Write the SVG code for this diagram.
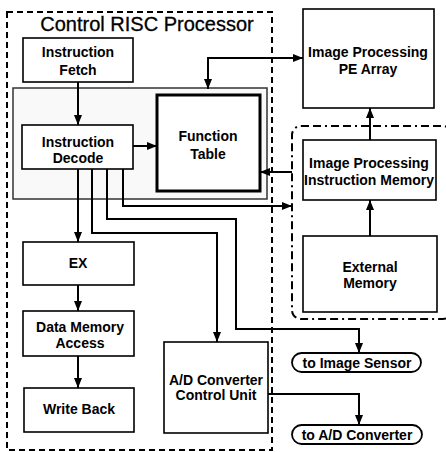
<svg xmlns="http://www.w3.org/2000/svg" width="446" height="452" viewBox="0 0 446 452">
<style>
.box{fill:#fff;stroke:#000;stroke-width:1.6}
.lbl{font-family:"Liberation Sans",Arial,sans-serif;font-weight:bold;font-size:14px;text-anchor:middle;fill:#000}
.ln{fill:none;stroke:#000;stroke-width:2}
.ar{marker-end:url(#ah)}
</style>
<defs>
<marker id="ah" markerUnits="userSpaceOnUse" markerWidth="10" markerHeight="8" refX="10" refY="4" orient="auto-start-reverse">
<path d="M0,0 L10,4 L0,8 z" fill="#000"/>
</marker>
</defs>
<rect width="446" height="452" fill="#fff"/>

<g id="risc-container">
<rect x="7" y="12" width="265" height="438" fill="none" stroke="#000" stroke-width="2" stroke-dasharray="6,4"/>
<text x="147" y="31" font-family="Liberation Sans,Arial,sans-serif" font-size="20" text-anchor="middle" stroke="#000" stroke-width="0.3">Control RISC Processor</text>
</g>

<g id="decode-group">
<rect x="13" y="88" width="254" height="111" fill="#f9f9f9" stroke="#333" stroke-width="1.5"/>
</g>

<g id="instruction-fetch">
<rect class="box" x="23" y="38" width="110" height="44"/>
<text class="lbl" x="78" y="57">Instruction</text>
<text class="lbl" x="78" y="75">Fetch</text>
</g>

<g id="instruction-decode">
<rect class="box" x="22" y="125" width="111" height="44"/>
<text class="lbl" x="78" y="147">Instruction</text>
<text class="lbl" x="78" y="163">Decode</text>
</g>

<g id="function-table">
<rect x="157" y="95" width="103" height="96" fill="#fff" stroke="#000" stroke-width="3"/>
<text class="lbl" x="208" y="141" font-size="15.5">Function</text>
<text class="lbl" x="208" y="159" font-size="15.5">Table</text>
</g>

<g id="ex">
<rect class="box" x="23" y="242" width="111" height="43"/>
<text class="lbl" x="78" y="268">EX</text>
</g>

<g id="data-memory-access">
<rect class="box" x="23" y="311" width="111" height="45"/>
<text class="lbl" x="80" y="332">Data Memory</text>
<text class="lbl" x="80" y="348">Access</text>
</g>

<g id="write-back">
<rect class="box" x="24" y="388" width="110" height="44"/>
<text class="lbl" x="79" y="414">Write Back</text>
</g>

<g id="ad-control-unit">
<rect class="box" x="164" y="342" width="104" height="91"/>
<text class="lbl" x="216" y="385" font-size="14.5">A/D Converter</text>
<text class="lbl" x="216" y="400" font-size="14.5">Control Unit</text>
</g>

<g id="pe-array">
<rect class="box" x="303" y="9" width="131" height="99"/>
<text class="lbl" x="368" y="57">Image Processing</text>
<text class="lbl" x="368" y="74">PE Array</text>
</g>

<g id="image-memory-group">
<rect x="292" y="126" width="160" height="193" rx="9" fill="none" stroke="#000" stroke-width="2" stroke-dasharray="8,4,8,4,2,4"/>
</g>

<g id="ip-instruction-memory">
<rect class="box" x="303" y="140" width="133" height="60"/>
<text class="lbl" x="369" y="168">Image Processing</text>
<text class="lbl" x="369" y="185">Instruction Memory</text>
</g>

<g id="external-memory">
<rect class="box" x="303" y="236" width="134" height="76"/>
<text class="lbl" x="370" y="272">External</text>
<text class="lbl" x="370" y="288">Memory</text>
</g>

<g id="to-image-sensor">
<rect x="292" y="353" width="129" height="19" rx="9.5" fill="#fff" stroke="#000" stroke-width="1.8"/>
<text class="lbl" x="357" y="367.5" font-size="15">to Image Sensor</text>
</g>

<g id="to-ad-converter">
<rect x="292" y="425" width="130" height="19" rx="9.5" fill="#fff" stroke="#000" stroke-width="1.8"/>
<text class="lbl" x="357" y="439.5" font-size="15">to A/D Converter</text>
</g>

<g id="connectors">
<path class="ln ar" d="M78,82 V125"/>
<path class="ln ar" d="M133,146 H157"/>
<path class="ln ar" d="M78,169 V242"/>
<path class="ln ar" d="M78,285 V311"/>
<path class="ln ar" d="M78,356 V388"/>
<path class="ln ar" d="M92,169 V233 H217 V342"/>
<path class="ln ar" d="M107,169 V219 H236 V329 H359 V353"/>
<path class="ln ar" d="M123,169 V206 H292"/>
<path class="ln ar" d="M292,172 H260"/>
<path class="ln ar" d="M208,89 V58 H303" marker-start="url(#ah)"/>
<path class="ln ar" d="M370,140 V108"/>
<path class="ln ar" d="M370,236 V200"/>
<path class="ln ar" d="M268,394 H359 V425"/>
</g>
</svg>
